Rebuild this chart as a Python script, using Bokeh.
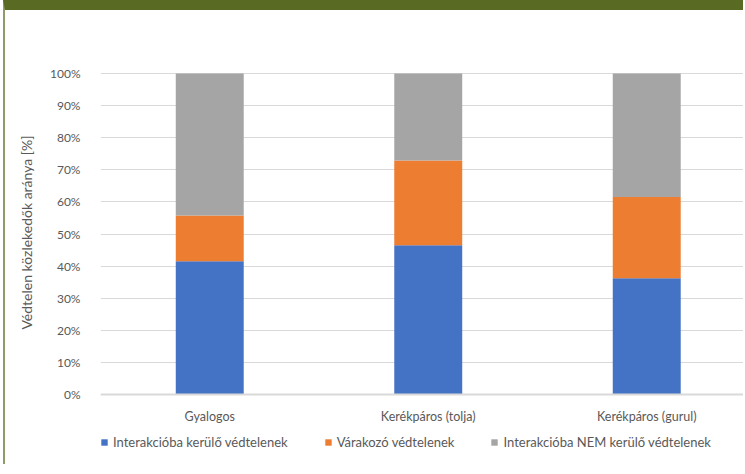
from bokeh.plotting import figure
from bokeh.models import ColumnDataSource, Range1d, FixedTicker, Legend, LegendItem, Span
from bokeh.core.properties import value
from bokeh.embed import file_html
from bokeh.resources import INLINE

categories = ["Gyalogos", "Kerékpáros (tolja)", "Kerékpáros (gurul)"]
interakcio = [41.5, 46.5, 36.2]
varakozo = [14.3, 26.4, 25.3]
nem_interakcio = [44.2, 27.1, 38.5]
series_names = ["Interakcióba kerülő védtelenek", "Várakozó védtelenek", "Interakcióba NEM kerülő védtelenek"]
y_ticks = [0, 10, 20, 30, 40, 50, 60, 70, 80, 90, 100]

colors = ["#4472c4", "#ed7d31", "#a5a5a5"]
FONT = "Lato"
TXT = "#595959"

xpos = [i + 0.5 for i in range(len(categories))]
src = ColumnDataSource(dict(x=xpos, s1=interakcio, s2=varakozo, s3=nem_interakcio))
lab_src = ColumnDataSource(dict(x=xpos, y=[-6.9] * len(categories), t=categories))

p = figure(width=740, height=464, output_backend="svg", toolbar_location=None,
           x_range=Range1d(0, 2.952), y_range=Range1d(-18.69, 119.63))
p.styles = {"border-top": "10px solid #596a23", "border-left": "2px solid #8d9c68",
            "margin-left": "3px"}
p.min_border_left = 95
p.min_border_right = 0
p.min_border_top = 0
p.min_border_bottom = 20
p.outline_line_color = None
p.background_fill_color = "white"
p.border_fill_color = "white"

rs = p.vbar_stack(["s1", "s2", "s3"], x="x", width=0.311, color=colors, source=src,
                  line_color=None)

p.xgrid.grid_line_color = None
p.ygrid.grid_line_color = "#d9d9d9"
p.ygrid.grid_line_width = 1

p.add_layout(Span(location=0, dimension="width", line_color="#d9d9d9", line_width=2))

p.yaxis.ticker = FixedTicker(ticks=y_ticks)
p.yaxis.major_label_overrides = {t: f"{t}%" for t in y_ticks}
p.yaxis.axis_line_color = None
p.yaxis.major_tick_line_color = None
p.yaxis.minor_tick_line_color = None
p.yaxis.major_label_standoff = 14
p.yaxis.major_label_text_font = FONT
p.yaxis.major_label_text_font_size = "12px"
p.yaxis.major_label_text_color = TXT
p.yaxis.axis_label = "Védtelen közlekedők aránya [%]"
p.yaxis.axis_label_text_font = FONT
p.yaxis.axis_label_text_font_size = "14px"
p.yaxis.axis_label_text_font_style = "normal"
p.yaxis.axis_label_text_color = TXT
p.yaxis.axis_label_standoff = 12

p.xaxis.visible = False

p.text(x="x", y="y", text="t", source=lab_src, text_align="center", text_baseline="middle",
       text_font=value(FONT), text_font_size="12.5px", text_color=TXT)

legend = Legend(items=[LegendItem(label=n, renderers=[r]) for n, r in zip(series_names, rs)],
                orientation="horizontal", location=(0, 4), padding=0, margin=0,
                spacing=36, glyph_width=8, glyph_height=8, label_standoff=5,
                label_text_font=FONT, label_text_font_size="13px", label_text_color=TXT,
                border_line_color=None, background_fill_alpha=0)
p.add_layout(legend)

open("out.html", "w").write(file_html(p, INLINE))
